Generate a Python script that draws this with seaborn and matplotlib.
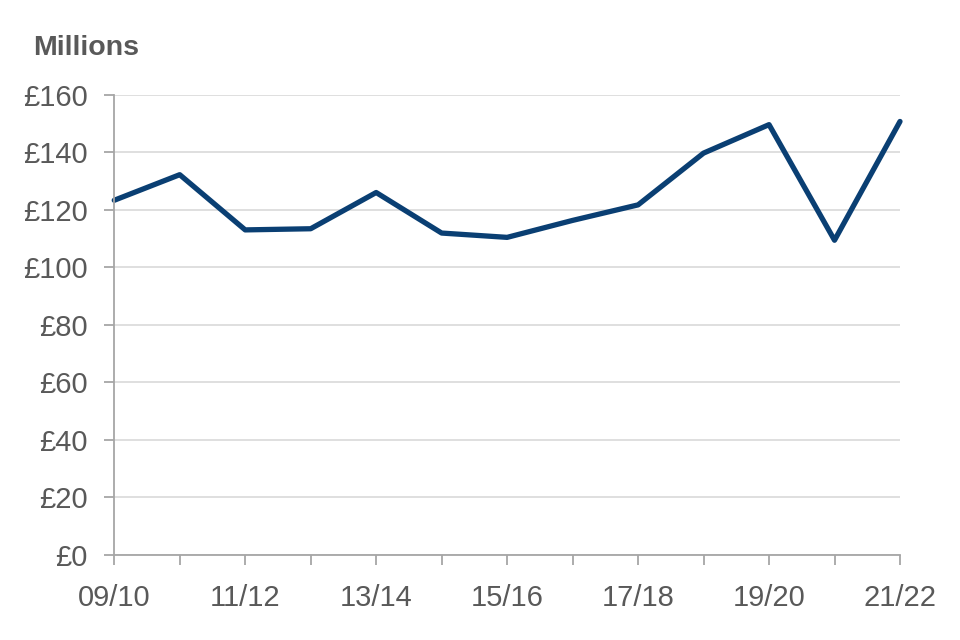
import pandas as pd
import seaborn as sns
import matplotlib.pyplot as plt

years = ['09/10', '10/11', '11/12', '12/13', '13/14', '14/15', '15/16',
         '16/17', '17/18', '18/19', '19/20', '20/21', '21/22']
values = [123.3, 132.2, 113.0, 113.4, 126.0, 111.9, 110.4,
          116.3, 121.7, 139.7, 149.6, 109.4, 150.7]
y_ticks = [0, 20, 40, 60, 80, 100, 120, 140, 160]

sns.set_style('white')
plt.rcParams['font.family'] = ['Liberation Sans', 'DejaVu Sans']

df = pd.DataFrame({'pos': range(len(years)), 'value': values})

fig = plt.figure(figsize=(9.6, 6.4), dpi=100)
ax = fig.add_axes([0.119, 0.133, 0.8185, 0.719])

sns.lineplot(data=df, x='pos', y='value', ax=ax, color='#0a3f73',
             linewidth=3.8, clip_on=False)

ax.set_xlim(0, len(years) - 1)
ax.set_ylim(0, 160)
ax.set_xticks(range(len(years)))
ax.set_xticklabels([y if i % 2 == 0 else '' for i, y in enumerate(years)])
ax.set_yticks(y_ticks)
ax.set_yticklabels([f'£{v}' for v in y_ticks])
ax.set_xlabel('')
ax.set_ylabel('')

# 격자선 & 축 스타일
ax.grid(axis='y', color='#d9d9d9', linewidth=1.2)
ax.grid(axis='x', visible=False)
ax.set_axisbelow(True)
for side in ['top', 'right']:
    ax.spines[side].set_visible(False)
for side in ['left', 'bottom']:
    ax.spines[side].set_color('#a6a6a6')
    ax.spines[side].set_linewidth(1.3)
ax.tick_params(axis='both', direction='out', length=7, width=1.3,
               color='#a6a6a6', labelsize=21, labelcolor='#595959')
ax.tick_params(axis='y', pad=12, left=True)
ax.tick_params(axis='x', pad=14, bottom=True)

fig.text(33 / 960, 1 - 48 / 640, 'Millions', fontsize=20.5, fontweight='bold',
         color='#595959', ha='left', va='center')

fig.savefig('out.png', dpi=100)
